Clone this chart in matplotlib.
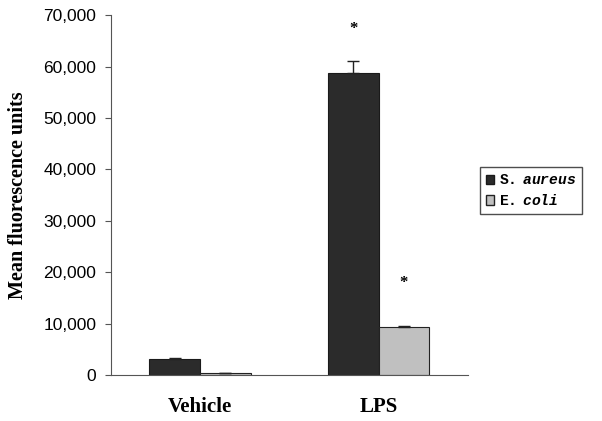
import matplotlib.pyplot as plt
import numpy as np
from matplotlib.patches import Patch

# data
groups = ['Vehicle', 'LPS']
aureus = [3050, 58700]
aureus_err = [200, 2350]
ecoli = [400, 9300]
ecoli_err = [50, 300]
stars_aureus = ['', '*']
stars_ecoli = ['', '*']

plt.rcParams['mathtext.fontset'] = 'custom'
plt.rcParams['mathtext.it'] = 'Liberation Mono:italic:bold'
plt.rcParams['mathtext.rm'] = 'Liberation Mono:bold'

fig = plt.figure(figsize=(6.02, 4.21), dpi=100)
ax = fig.add_axes([0.184, 0.109, 0.593, 0.855])

x = np.arange(len(groups))
w = 0.285
ax.bar(x - w/2, aureus, w, color='#2b2b2b', edgecolor='#1a1a1a', linewidth=0.8,
       yerr=[[0, 0], aureus_err], error_kw=dict(ecolor='#222222', elinewidth=1, capsize=4, capthick=1))
ax.bar(x + w/2, ecoli, w, color='#c0c0c0', edgecolor='#222222', linewidth=0.8,
       yerr=[[0, 0], ecoli_err], error_kw=dict(ecolor='#222222', elinewidth=1, capsize=4, capthick=1))

for i in range(len(groups)):
    if stars_aureus[i]:
        ax.text(x[i] - w/2, aureus[i] + aureus_err[i] + 6300, stars_aureus[i], ha='center', va='center',
                fontsize=12, fontweight='bold', family='Liberation Serif')
    if stars_ecoli[i]:
        ax.text(x[i] + w/2, ecoli[i] + ecoli_err[i] + 8300, stars_ecoli[i], ha='center', va='center',
                fontsize=12, fontweight='bold', family='Liberation Serif')

ax.set_xlim(-0.5, 1.5)
ax.set_ylim(0, 70000)
ax.set_yticks(np.arange(0, 70001, 10000))
ax.set_yticklabels([f'{v:,}' for v in range(0, 70001, 10000)], family='Liberation Sans', fontsize=12.5)
ax.set_xticks(x)
ax.set_xticklabels(groups, family='Liberation Serif', fontweight='bold', fontsize=15)
ax.tick_params(axis='x', length=0, pad=16)
ax.tick_params(axis='y', length=4.5, color='#555555', pad=6)

for s in ['top', 'right']:
    ax.spines[s].set_visible(False)
for s in ['left', 'bottom']:
    ax.spines[s].set_color('#555555')

ax.set_ylabel('Mean fluorescence units', family='Liberation Serif', fontweight='bold', fontsize=14.5, labelpad=11)

handles = [Patch(facecolor='#2b2b2b', edgecolor='#1a1a1a'), Patch(facecolor='#c0c0c0', edgecolor='#222222')]
leg = fig.legend(handles, [r'S.$\ \ \mathit{aureus}$', r'E.$\ \ \mathit{coli}$'], loc='center left',
                 bbox_to_anchor=(0.785, 0.547), frameon=True, fancybox=False, edgecolor='#222222',
                 handlelength=0.6, handleheight=0.6, handletextpad=0.3, borderpad=0.4, labelspacing=0.4,
                 prop={'family': 'Liberation Mono', 'size': 10.5, 'weight': 'bold'})
leg.get_frame().set_linewidth(1)

fig.savefig('out.png', dpi=100)
